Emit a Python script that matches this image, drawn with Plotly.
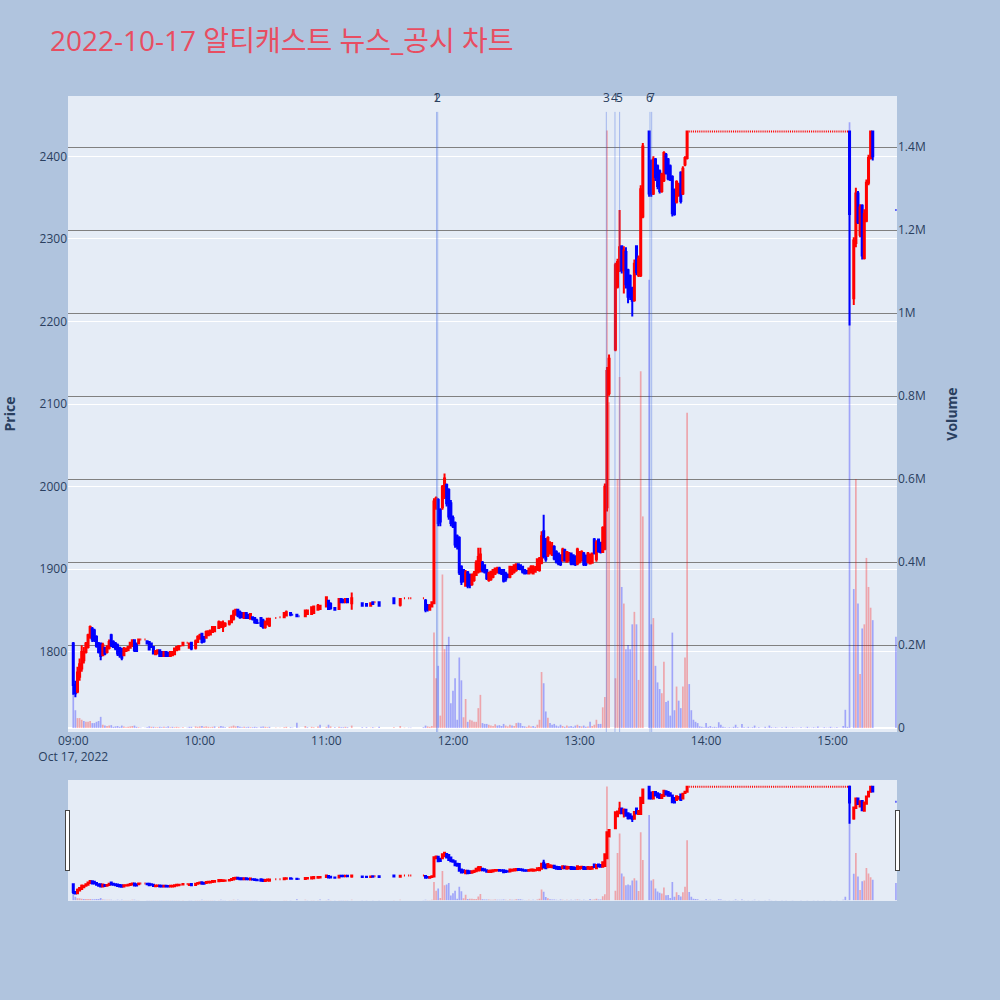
import pandas as pd
import plotly.graph_objects as go
from plotly.subplots import make_subplots

title_text = "2022-10-17 알티캐스트 뉴스_공시 차트"
trade_date = "2022-10-17"

# ---------------- 08:58 - 09:30 ----------------
times_a = ["08:58", "09:00", "09:01", "09:02", "09:03", "09:04", "09:05", "09:06", "09:07", "09:08", "09:09",
           "09:10", "09:11", "09:12", "09:13", "09:14", "09:15", "09:16", "09:17", "09:18", "09:19",
           "09:20", "09:21", "09:22", "09:23", "09:24", "09:25", "09:26", "09:27", "09:28", "09:29", "09:30"]
open_a = [None, 1810, 1760, 1752, 1770, 1780, 1790, 1800, 1806, 1818, 1828,
          1826, 1818, 1810, 1810, 1796, 1805, 1800, 1805, 1820, 1812,
          1810, 1808, 1805, 1803, 1796, 1801, 1802, 1805, 1808, 1814, 1810]
high_a = [None, 1812, 1765, 1782, 1792, 1808, 1806, 1812, 1822, 1832, 1830,
          1828, 1820, 1812, 1811, 1811, 1806, 1808, 1815, 1822, 1814,
          1812, 1810, 1806, 1805, 1806, 1805, 1807, 1812, 1815, 1815, 1811]
low_a = [None, 1748, 1745, 1750, 1765, 1776, 1786, 1798, 1804, 1816, 1812,
         1812, 1805, 1798, 1790, 1795, 1796, 1798, 1803, 1806, 1805,
         1802, 1795, 1793, 1790, 1795, 1800, 1801, 1804, 1806, 1800, 1800]
close_a = [None, 1760, 1750, 1775, 1785, 1800, 1800, 1810, 1820, 1830, 1815,
           1814, 1807, 1800, 1795, 1808, 1798, 1805, 1812, 1808, 1806,
           1804, 1798, 1796, 1793, 1803, 1804, 1806, 1811, 1814, 1802, 1801]
volume_a = [0, 200000, 43000, 24000, 24000, 20000, 17000, 15000, 15000, 17000, 12000,
            12000, 15000, 17000, 27000, 8000, 6000, 5000, 6000, 7000, 3000,
            4000, 5000, 3000, 6000, 4000, 2000, 3000, 4000, 5000, 6000, 3000]

# ---------------- 09:31 - 09:59 ----------------
times_b = ["09:31", "09:32", "09:34", "09:35", "09:36", "09:37", "09:38", "09:39", "09:40", "09:41",
           "09:42", "09:43", "09:44", "09:45", "09:46", "09:47", "09:48", "09:49", "09:50", "09:51",
           "09:52", "09:54", "09:55", "09:56", "09:58", "09:59"]
open_b = [1810, 1815, 1815, 1813, 1812, 1810, 1806, 1797, 1798, 1802,
          1800, 1795, 1800, 1799, 1795, 1796, 1797, 1802, 1803, 1807,
          1808, 1811, 1805, 1811, 1805, 1812]
high_b = [1815, 1815, 1815, 1813, 1812, 1810, 1806, 1802, 1803, 1803,
          1801, 1801, 1801, 1800, 1801, 1801, 1805, 1807, 1808, 1807,
          1811, 1811, 1811, 1812, 1815, 1820]
low_b = [1810, 1815, 1815, 1810, 1802, 1805, 1797, 1796, 1797, 1794,
         1794, 1794, 1794, 1794, 1794, 1795, 1796, 1801, 1802, 1807,
         1808, 1811, 1804, 1802, 1803, 1811]
close_b = [1815, 1815, 1815, 1810, 1803, 1806, 1798, 1801, 1802, 1795,
           1795, 1800, 1795, 1795, 1800, 1800, 1804, 1806, 1807, 1807,
           1811, 1811, 1810, 1804, 1813, 1818]
volume_b = [2000, 1000, 1000, 2000, 4000, 3000, 3000, 2000, 2000, 3000,
            2000, 3000, 2000, 4000, 2000, 3000, 2000, 3000, 2000, 1000,
            2000, 1000, 3000, 3000, 4000, 3000]

# ---------------- 10:00 - 10:33 ----------------
times_c = ["10:00", "10:01", "10:02", "10:03", "10:04", "10:05", "10:06", "10:07",
           "10:09", "10:10", "10:11", "10:12",
           "10:14", "10:15", "10:16", "10:17", "10:18", "10:19", "10:20", "10:21", "10:22", "10:23",
           "10:24", "10:25", "10:26", "10:27", "10:28", "10:29", "10:30", "10:31", "10:32", "10:33"]
open_c = [1816, 1822, 1818, 1817, 1820, 1821, 1824, 1825,
          1829, 1830, 1830, 1832,
          1834, 1836, 1840, 1845, 1851, 1848, 1847, 1841, 1847, 1845,
          1840, 1842, 1841, 1838, 1835, 1841, 1838, 1830, 1834, 1832]
high_c = [1822, 1823, 1819, 1826, 1826, 1827, 1831, 1831,
          1838, 1837, 1838, 1836,
          1838, 1845, 1851, 1852, 1852, 1850, 1848, 1848, 1848, 1846,
          1847, 1843, 1842, 1840, 1835, 1842, 1840, 1838, 1841, 1841]
low_c = [1815, 1810, 1811, 1816, 1819, 1820, 1823, 1824,
         1828, 1829, 1824, 1830,
         1832, 1835, 1838, 1844, 1842, 1840, 1841, 1840, 1840, 1840,
         1839, 1838, 1834, 1834, 1835, 1830, 1828, 1828, 1832, 1830]
close_c = [1820, 1812, 1813, 1824, 1825, 1826, 1830, 1830,
           1836, 1836, 1835, 1834,
           1837, 1843, 1849, 1851, 1844, 1842, 1842, 1847, 1841, 1841,
           1846, 1840, 1836, 1835, 1835, 1832, 1830, 1836, 1840, 1840]
volume_c = [4000, 5000, 3000, 4000, 3000, 2000, 3000, 4000,
            3000, 5000, 4000, 2000,
            3000, 4000, 6000, 4000, 5000, 3000, 2000, 3000, 2000, 3000,
            2000, 2000, 3000, 2000, 1000, 3000, 4000, 3000, 2000, 3000]

# ---------------- 10:36 - 11:50 (thin trading) ----------------
times_d = ["10:36", "10:38", "10:40", "10:41", "10:43", "10:44", "10:46", "10:47", "10:50", "10:51",
           "10:53", "10:54", "10:56", "10:57", "11:00", "11:01", "11:02", "11:04", "11:06", "11:07",
           "11:08", "11:09", "11:10", "11:12", "11:17", "11:19", "11:21", "11:22", "11:23", "11:25",
           "11:32", "11:35", "11:37", "11:39", "11:40", "11:46", "11:47", "11:48", "11:49", "11:50"]
open_d = [1841, 1842, 1842, 1844, 1847, 1845, 1845, 1843, 1843, 1846,
          1846, 1847, 1851, 1852, 1855, 1862, 1858, 1853, 1852, 1864,
          1863, 1860, 1864, 1859, 1859, 1858, 1856, 1860, 1860, 1860,
          1865, 1857, 1865, 1865, 1865, 1865, 1862, 1856, 1851, 1855]
high_d = [1841, 1842, 1848, 1850, 1848, 1845, 1846, 1843, 1851, 1851,
          1855, 1856, 1858, 1857, 1867, 1863, 1860, 1854, 1865, 1865,
          1864, 1865, 1865, 1872, 1860, 1859, 1859, 1860, 1860, 1861,
          1866, 1865, 1865, 1865, 1865, 1865, 1864, 1858, 1858, 1861]
low_d = [1841, 1842, 1841, 1843, 1843, 1845, 1842, 1843, 1842, 1845,
         1845, 1846, 1850, 1851, 1854, 1851, 1851, 1850, 1851, 1859,
         1859, 1859, 1859, 1851, 1855, 1855, 1856, 1858, 1860, 1855,
         1858, 1855, 1865, 1865, 1865, 1865, 1848, 1849, 1850, 1854]
close_d = [1841, 1842, 1847, 1848, 1845, 1845, 1843, 1843, 1850, 1850,
           1854, 1855, 1856, 1856, 1866, 1852, 1853, 1851, 1864, 1860,
           1860, 1864, 1860, 1865, 1856, 1856, 1859, 1858, 1860, 1856,
           1859, 1864, 1865, 1865, 1865, 1865, 1851, 1852, 1856, 1860]
volume_d = [1000, 1000, 2000, 3000, 2000, 1000, 13000, 1000, 5000, 2000,
            3000, 2000, 4000, 8000, 3000, 8000, 4000, 2000, 3000, 2000,
            2000, 3000, 2000, 6000, 2000, 2000, 1000, 2000, 1000, 3000,
            2000, 5000, 1000, 1000, 1000, 2000, 6000, 4000, 3000, 5000]

# ---------------- 11:51 - 13:14 (every minute) ----------------
times_e_start, times_e_end = "11:51", "13:14"
open_e = [1859, 1975, 1984, 1972, 1975, 1988, 2002, 1996, 1980, 1962,
          1956, 1940, 1938, 1903, 1899, 1880, 1896, 1893, 1882, 1887,
          1893, 1897, 1898, 1908, 1905, 1899, 1887, 1888, 1891, 1895,
          1897, 1901, 1899, 1899, 1895, 1893, 1891, 1895, 1897, 1899,
          1906, 1905, 1903, 1899, 1898, 1895, 1897, 1895, 1897, 1900,
          1899, 1908, 1946, 1936, 1917, 1920, 1918, 1927, 1921, 1919,
          1917, 1911, 1923, 1909, 1911, 1919, 1917, 1915, 1907, 1909,
          1911, 1919, 1916, 1909, 1907, 1908, 1936, 1912, 1936, 1932,
          1921, 1925, 1975, 2113]
high_e = [1986, 1988, 1986, 1974, 2002, 2016, 2004, 1998, 1984, 1965,
          1958, 1942, 1940, 1905, 1900, 1899, 1898, 1895, 1895, 1898,
          1911, 1926, 1926, 1910, 1906, 1900, 1897, 1898, 1900, 1902,
          1903, 1903, 1900, 1900, 1897, 1895, 1904, 1904, 1906, 1907,
          1907, 1906, 1904, 1900, 1899, 1902, 1905, 1905, 1904, 1913,
          1915, 1946, 1966, 1938, 1940, 1934, 1933, 1929, 1923, 1920,
          1918, 1926, 1925, 1922, 1921, 1920, 1918, 1917, 1926, 1922,
          1923, 1921, 1918, 1921, 1919, 1920, 1938, 1935, 1937, 1933,
          1952, 2004, 2145, 2160]
low_e = [1858, 1972, 1952, 1952, 1972, 1985, 1976, 1960, 1952, 1950,
         1926, 1924, 1893, 1881, 1884, 1879, 1877, 1877, 1880, 1885,
         1892, 1895, 1896, 1896, 1895, 1887, 1885, 1886, 1889, 1893,
         1895, 1894, 1893, 1884, 1885, 1889, 1889, 1893, 1895, 1897,
         1899, 1899, 1895, 1894, 1894, 1894, 1895, 1894, 1896, 1898,
         1897, 1906, 1913, 1909, 1915, 1918, 1916, 1911, 1907, 1905,
         1904, 1909, 1909, 1908, 1909, 1905, 1905, 1904, 1905, 1907,
         1909, 1904, 1904, 1907, 1906, 1907, 1918, 1909, 1920, 1919,
         1920, 1923, 1970, 2110]
close_e = [1982, 1986, 1956, 1958, 2000, 2010, 1980, 1964, 1956, 1952,
           1930, 1928, 1896, 1885, 1886, 1896, 1880, 1881, 1893, 1895,
           1908, 1915, 1918, 1899, 1897, 1889, 1895, 1897, 1899, 1901,
           1901, 1896, 1895, 1886, 1888, 1891, 1903, 1902, 1905, 1906,
           1901, 1900, 1897, 1895, 1896, 1901, 1903, 1903, 1901, 1912,
           1913, 1940, 1916, 1912, 1938, 1931, 1928, 1913, 1909, 1907,
           1906, 1924, 1911, 1921, 1919, 1907, 1907, 1906, 1924, 1920,
           1921, 1906, 1906, 1919, 1918, 1919, 1920, 1932, 1922, 1921,
           1950, 2000, 2140, 2155]
volume_e = [230000, 120000, 150000, 30000, 370000, 190000, 200000, 220000, 60000, 90000,
            120000, 20000, 170000, 115000, 26000, 70000, 15000, 20000, 18000, 15000,
            15000, 48000, 80000, 12000, 10000, 10000, 8000, 6000, 5000, 9000,
            6000, 7000, 5000, 10000, 6000, 4000, 8000, 6000, 5000, 12000,
            13000, 12000, 5000, 4000, 3000, 6000, 4000, 5000, 3000, 8000,
            20000, 135000, 108000, 40000, 25000, 12000, 8000, 10000, 6000, 4000,
            8000, 5000, 3000, 6000, 4000, 5000, 3000, 6000, 8000, 5000,
            4000, 6000, 3000, 4000, 15000, 5000, 8000, 20000, 10000, 10000,
            50000, 75000, 1440000, 785000]

# ---------------- 13:17 - 13:30 ----------------
times_f = ["13:17", "13:18", "13:19", "13:20", "13:21", "13:22", "13:23",
           "13:24", "13:25", "13:26", "13:27", "13:28", "13:29", "13:30"]
open_f = [2166, 2242, 2262, 2291, 2262, 2284, 2262, 2255, 2240, 2226, 2291, 2256, 2256, 2327]
high_f = [2271, 2276, 2335, 2292, 2291, 2290, 2264, 2257, 2242, 2275, 2292, 2280, 2365, 2416]
low_f = [2164, 2240, 2260, 2258, 2234, 2240, 2222, 2226, 2206, 2224, 2256, 2254, 2254, 2325]
close_f = [2268, 2272, 2290, 2262, 2286, 2245, 2230, 2230, 2225, 2270, 2260, 2276, 2360, 2412]
volume_f = [120000, 600000, 846000, 340000, 300000, 190000, 200000,
            190000, 250000, 280000, 250000, 116000, 860000, 510000]

# ---------------- 13:33 - 13:51 ----------------
times_g = ["13:33", "13:34", "13:35", "13:36", "13:37", "13:38", "13:39", "13:40", "13:41", "13:42",
           "13:43", "13:44", "13:45", "13:46", "13:47", "13:48", "13:49", "13:50", "13:51"]
open_g = [2430, 2394, 2355, 2396, 2388, 2382, 2358, 2371, 2402, 2396,
          2388, 2375, 2359, 2345, 2353, 2380, 2355, 2390, 2398]
high_g = [2430, 2396, 2400, 2398, 2390, 2384, 2380, 2406, 2404, 2398,
          2390, 2377, 2361, 2371, 2368, 2382, 2388, 2400, 2430]
low_g = [2351, 2351, 2353, 2370, 2360, 2355, 2356, 2369, 2378, 2371,
         2370, 2327, 2328, 2343, 2351, 2343, 2353, 2388, 2396]
close_g = [2355, 2355, 2396, 2375, 2364, 2358, 2378, 2404, 2380, 2373,
           2372, 2331, 2330, 2369, 2365, 2346, 2385, 2398, 2430]
volume_g = [1080000, 250000, 265000, 150000, 110000, 94000, 84000, 160000, 63000, 66000,
            30000, 230000, 43000, 100000, 66000, 48000, 100000, 170000, 760000]

# ---------------- 13:52 - 15:07 (held at upper limit, open = high = low = close) ----------------
times_h_start, times_h_end = "13:52", "15:07"
limit_price = [2430, 2430, 2430, 2430, 2430, 2430, 2430, 2430, 2430, 2430,
               2430, 2430, 2430, 2430, 2430, 2430, 2430, 2430, 2430, 2430,
               2430, 2430, 2430, 2430, 2430, 2430, 2430, 2430, 2430, 2430,
               2430, 2430, 2430, 2430, 2430, 2430, 2430, 2430, 2430, 2430,
               2430, 2430, 2430, 2430, 2430, 2430, 2430, 2430, 2430, 2430,
               2430, 2430, 2430, 2430, 2430, 2430, 2430, 2430, 2430, 2430,
               2430, 2430, 2430, 2430, 2430, 2430, 2430, 2430, 2430, 2430,
               2430, 2430, 2430, 2430, 2430, 2430]
volume_h = [106000, 43000, 20000, 15000, 12000, 4000, 3000, 2000, 12000, 3000,
            5000, 2000, 3000, 2000, 14000, 8000, 3000, 2000, 1000, 2000,
            1000, 3000, 8000, 2000, 1000, 10000, 2000, 1000, 3000, 1000,
            2000, 6000, 1000, 2000, 1000, 1000, 3000, 1000, 6000, 2000,
            1000, 2000, 1000, 1000, 2000, 1000, 3000, 1000, 1000, 2000,
            1000, 1000, 1000, 2000, 1000, 1000, 3000, 1000, 1000, 2000,
            1000, 4000, 1000, 1000, 2000, 1000, 1000, 3000, 1000, 1000,
            2000, 1000, 1000, 5000, 44000, 3000]

# ---------------- 15:08 - 15:30 ----------------
times_i = ["15:08", "15:10", "15:11", "15:12", "15:13", "15:14", "15:15", "15:16", "15:17", "15:18", "15:19", "15:30"]
open_i = [2430, 2228, 2295, 2355, 2305, 2340, 2277, 2322, 2368, 2398, 2430, 2335]
high_i = [2430, 2302, 2362, 2358, 2342, 2342, 2336, 2372, 2402, 2430, 2430, 2335]
low_i = [2195, 2220, 2290, 2318, 2302, 2275, 2275, 2320, 2365, 2396, 2395, 2335]
close_i = [2330, 2298, 2355, 2320, 2338, 2280, 2330, 2368, 2398, 2430, 2400, 2335]
volume_i = [1460000, 335000, 600000, 300000, 130000, 240000, 250000, 410000, 340000, 290000, 260000, 220000]

# ---------------- news (disclosure) markers ----------------
news_times = ["11:52:12", "11:52:46", "13:12:42", "13:16:48", "13:19:00", "13:33:24", "13:34:12"]
news_labels = ["1", "2", "3", "4", "5", "6", "7"]

# ---------------- assemble ----------------
def minute_range(a, b):
    return [t.strftime("%H:%M") for t in pd.date_range(f"{trade_date} {a}", f"{trade_date} {b}", freq="min")]

times_e = minute_range(times_e_start, times_e_end)
times_h = minute_range(times_h_start, times_h_end)

times = times_a + times_b + times_c + times_d + times_e + times_f + times_g + times_h + times_i
opens = open_a + open_b + open_c + open_d + open_e + open_f + open_g + limit_price + open_i
highs = high_a + high_b + high_c + high_d + high_e + high_f + high_g + limit_price + high_i
lows = low_a + low_b + low_c + low_d + low_e + low_f + low_g + limit_price + low_i
closes = close_a + close_b + close_c + close_d + close_e + close_f + close_g + limit_price + close_i
volumes = volume_a + volume_b + volume_c + volume_d + volume_e + volume_f + volume_g + volume_h + volume_i

n = len(times)
assert len(opens) == n and len(highs) == n and len(lows) == n and len(closes) == n and len(volumes) == n, \
    (n, len(opens), len(highs), len(lows), len(closes), len(volumes))

x = [f"{trade_date} {t}" for t in times]

RED = "#FF0000"
BLUE = "#0000FF"
vol_colors = []
prev = None
for c in closes:
    if c is not None and prev is not None and c > prev:
        vol_colors.append("rgba(255,0,0,0.3)")
    else:
        vol_colors.append("rgba(0,0,255,0.3)")
    if c is not None:
        prev = c

FONT = "'Open Sans', 'Noto Sans CJK KR', sans-serif"

fig = make_subplots(specs=[[{"secondary_y": True}]])
fig.add_trace(go.Candlestick(
    x=x, open=opens, high=highs, low=lows, close=closes, name="Price",
    increasing=dict(line=dict(color=RED, width=2), fillcolor=RED),
    decreasing=dict(line=dict(color=BLUE, width=2), fillcolor=BLUE),
), secondary_y=False)
fig.add_trace(go.Bar(
    x=x, y=volumes, name="Volume", marker=dict(color=vol_colors, line=dict(width=0)),
), secondary_y=True)

for t, lab in zip(news_times, news_labels):
    fig.add_shape(type="line", xref="x", yref="paper",
                  x0=f"{trade_date} {t}", x1=f"{trade_date} {t}", y0=0, y1=0.975,
                  line=dict(color="royalblue", width=1), opacity=0.4)
    fig.add_annotation(x=f"{trade_date} {t}", xref="x", y=0.998, yref="paper",
                       text=lab, showarrow=False, yanchor="middle",
                       font=dict(size=12, color="#2a3f5f", family=FONT))

fig.update_layout(
    width=1000, height=1000,
    font=dict(family=FONT),
    title=dict(text=title_text, x=0.05, xanchor="left", y=0.959, yanchor="middle",
               font=dict(size=28, color="#E84D61", family=FONT)),
    paper_bgcolor="lightsteelblue",
    plot_bgcolor="#E5ECF6",
    margin=dict(l=68, r=103, t=96, b=100),
    showlegend=False,
)
fig.update_xaxes(domain=[0, 1], showgrid=False,
                 rangeslider=dict(visible=True, bgcolor="#E5ECF6", thickness=0.15))
fig.update_yaxes(title=dict(text="Price", font=dict(size=14, weight="bold"), standoff=21),
                 range=[1703, 2473], dtick=100, gridcolor="white", automargin=False,
                 secondary_y=False)
fig.update_yaxes(title=dict(text="Volume", font=dict(size=14, weight="bold"), standoff=22),
                 range=[-9500, 1523000], dtick=200000, showgrid=True, gridcolor="gray",
                 automargin=False, secondary_y=True)

fig.write_html("out.html", config={"displayModeBar": False},
               post_script="document.body.style.margin='0';document.body.style.overflow='hidden';")
